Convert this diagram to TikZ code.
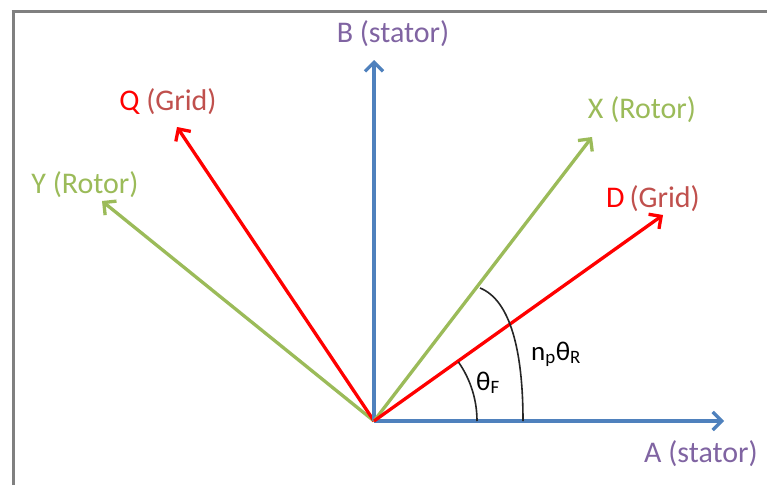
\documentclass[tikz,border=0pt]{standalone}
\usepackage{fontspec}
\setmainfont{Carlito}
\usetikzlibrary{arrows.meta}
\definecolor{cblue}{RGB}{79,129,189}
\definecolor{cred}{RGB}{255,0,0}
\definecolor{cgreen}{RGB}{155,187,89}
\definecolor{cpurple}{RGB}{128,100,162}
\definecolor{cgrid}{RGB}{192,80,77}
\definecolor{cframe}{RGB}{128,128,128}
\begin{document}
\begin{tikzpicture}[x=1pt,y=-1pt,
  vec/.style={line width=3.3pt,-{Straight Barb[length=9pt,width=18pt]}},
  lbl/.style={font=\fontsize{30}{34}\selectfont, inner sep=0pt, anchor=base},
  anglbl/.style={font=\fontsize{27}{32}\selectfont, inner sep=0pt, anchor=base west},
  ang/.style={line width=1.6pt, black!85}]
\useasboundingbox (0,0) rectangle (769,485);
\fill[white] (0,0) rectangle (769,485);
\draw[cframe, line width=3pt] (13,485) -- (13,11);
\draw[cframe, line width=3pt] (11.5,11) -- (767,11);

\coordinate (O) at (374,421);
\coordinate (A) at (724,421);
\coordinate (B) at (374,60);
\coordinate (Q) at (177,127);
\coordinate (Y) at (102,201);
\coordinate (X) at (592,137);
\coordinate (D) at (663,215);

\draw[vec, cgreen] (O) -- (Y);
\draw[vec, cred] (O) -- (Q);
\draw[vec, cblue] (O) -- (B);
\draw[vec, cblue] (O) -- (A);
\draw[vec, cgreen] (O) -- (X);
\draw[vec, cred] (O) -- (D);

\draw[ang] (477,421) arc[start angle=0, end angle=-35, radius=103];
\draw[ang] (523,421) .. controls (523,350) and (510,300) .. (480,288);

\node[lbl, text=cpurple] (labB) at (393,42) {B (stator)};
\node[lbl, text=cpurple] (labA) at (701,462) {A (stator)};
\node[lbl] (labQ) at (168,110) {\textcolor{cred}{Q} \textcolor{cgrid}{(Grid)}};
\node[lbl, text=cgreen] (labY) at (85,193) {Y (Rotor)};
\node[lbl, text=cgreen] (labX) at (642,118) {X (Rotor)};
\node[lbl] (labD) at (653,207) {\textcolor{cred}{D}\,\textcolor{cgrid}{(Grid)}};

\node[anglbl] (thF) at (476,390) {θ\textsubscript{F}};
\node[anglbl] (thR) at (531,360) {n\textsubscript{p}θ\textsubscript{R}};
\end{tikzpicture}
\end{document}
